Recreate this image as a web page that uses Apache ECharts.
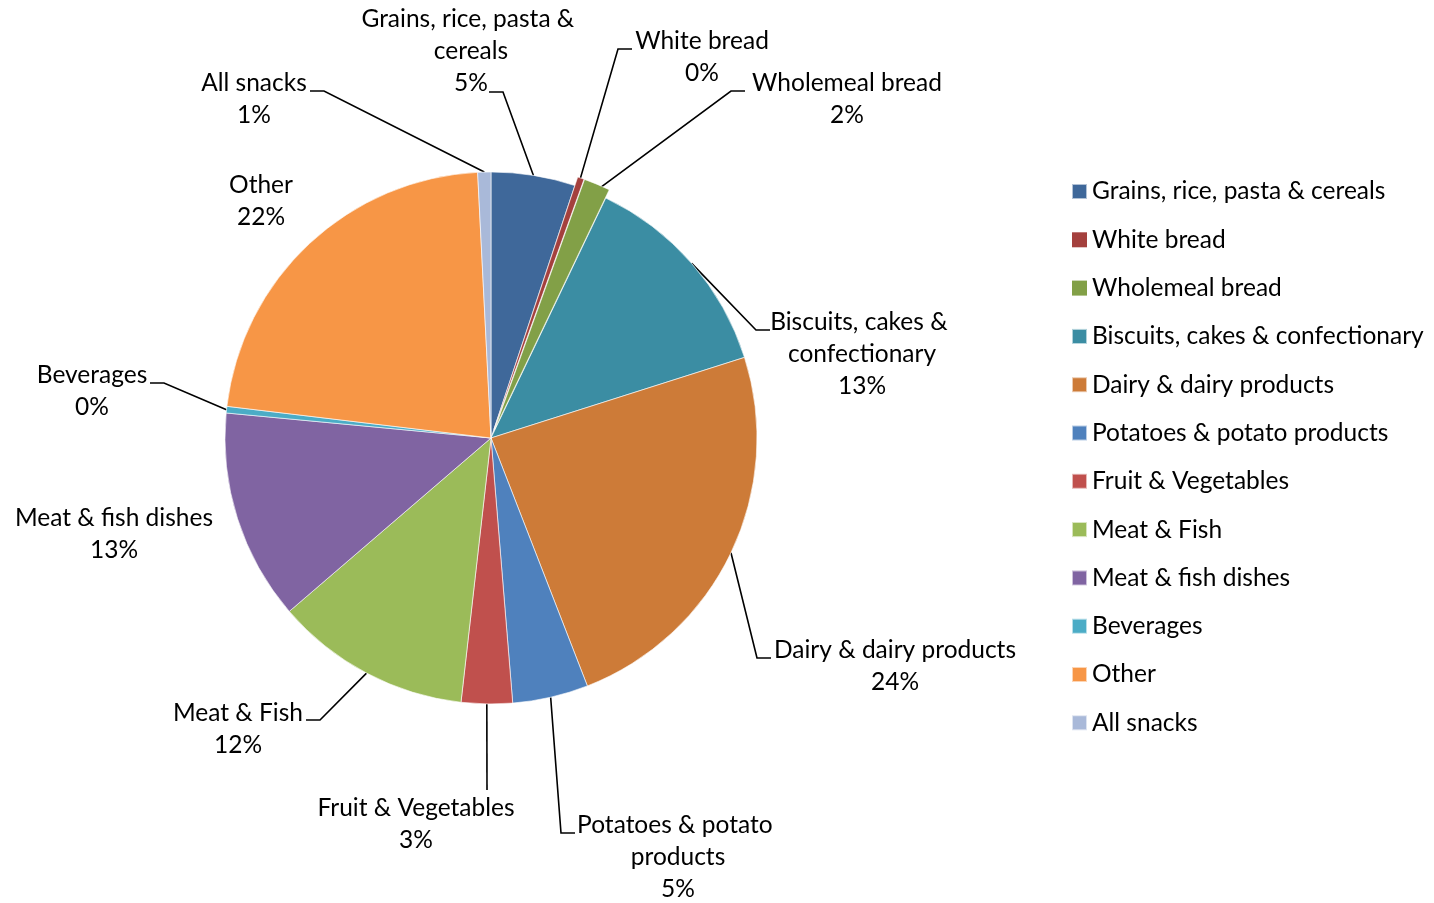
<!DOCTYPE html>
<html>
<head>
<meta charset="utf-8">
<script src="https://cdn.jsdelivr.net/npm/echarts@6/dist/echarts.min.js"></script>
<style>
  html, body { margin: 0; padding: 0; background: #fff; }
  #chart { width: 1434px; height: 903px; }
</style>
</head>
<body>
<div id="chart"></div>
<script>
// Share of intake by food group (%)
const categories = [
  'Grains, rice, pasta & cereals',
  'White bread',
  'Wholemeal bread',
  'Biscuits, cakes & confectionary',
  'Dairy & dairy products',
  'Potatoes & potato products',
  'Fruit & Vegetables',
  'Meat & Fish',
  'Meat & fish dishes',
  'Beverages',
  'Other',
  'All snacks'
];
const shares = [5.1, 0.4, 1.6, 13.0, 24.0, 4.6, 3.1, 11.9, 12.8, 0.4, 22.3, 0.8];

// Slice colours
const colors = [
  '#3F689A', '#A4403D', '#82A047', '#3B8DA3', '#CD7B38', '#4F81BD',
  '#C0504D', '#9BBB59', '#8064A2', '#4BACC6', '#F79646', '#A9B9D9'
];

// Slices pulled slightly out of the pie
const pulledOut = [1, 2];

// Label placement: centre of text block, end of leader line, direction of the short horizontal tail
const labelPlacement = [
  { cx: 471, cy: 51,  ex: 489, ey: 92,  tail: 1,  wrap: 240 },
  { cx: 702, cy: 57,  ex: 632, ey: 49,  tail: -1 },
  { cx: 847, cy: 99,  ex: 745, ey: 91,  tail: -1 },
  { cx: 862, cy: 354, ex: 770, ey: 330, tail: -1, wrap: 200 },
  { cx: 895, cy: 666, ex: 771, ey: 658, tail: -1 },
  { cx: 678, cy: 857, ex: 575, ey: 833, tail: -1, wrap: 220 },
  { cx: 416, cy: 824, ex: 487, ey: 790, tail: 0 },
  { cx: 238, cy: 729, ex: 306, ey: 720, tail: 1 },
  { cx: 114, cy: 534, noLine: true },
  { cx: 92,  cy: 391, ex: 150, ey: 383, tail: 1 },
  { cx: 261, cy: 201, noLine: true },
  { cx: 254, cy: 99,  ex: 310, ey: 91,  tail: 1 }
];

const FONT = 'Lato, "Open Sans", sans-serif';
const FONT_SIZE = 24.5;
const CENTER = [491, 438];
const RADIUS = 266;
const PULL = 9;
const CLEAR = 'rgba(0,0,0,0)';
const BORDER = { borderColor: 'rgba(255,255,255,0.6)', borderWidth: 1 };

const total = shares.reduce((s, v) => s + v, 0);

// Main pie: every slice and every label; pulled slices are left empty here
const mainData = categories.map((name, i) => {
  const p = labelPlacement[i];
  const pulled = pulledOut.indexOf(i) >= 0;
  const item = {
    name: name,
    value: shares[i],
    itemStyle: pulled ? { color: CLEAR, borderWidth: 0 } : { color: colors[i] }
  };
  if (p.wrap) item.label = { width: p.wrap, overflow: 'break' };
  if (p.noLine) item.labelLine = { show: false };
  return item;
});

// One extra pie per pulled slice, shifted outward along that slice's mid angle
const pulledSeries = pulledOut.map(idx => {
  let before = 0;
  for (let k = 0; k < idx; k++) before += shares[k];
  const mid = ((before + shares[idx] / 2) / total) * 2 * Math.PI;
  return {
    type: 'pie',
    center: [CENTER[0] + PULL * Math.sin(mid), CENTER[1] - PULL * Math.cos(mid)],
    radius: RADIUS,
    startAngle: 90,
    clockwise: true,
    silent: true,
    z: 3,
    emphasis: { disabled: true },
    label: { show: false },
    labelLine: { show: false },
    itemStyle: BORDER,
    data: categories.map((name, i) => ({
      name: name,
      value: shares[i],
      itemStyle: i === idx ? { color: colors[i] } : { color: CLEAR, borderWidth: 0 }
    }))
  };
});

const chart = echarts.init(document.getElementById('chart'), null, { renderer: 'canvas' });

chart.setOption({
  animation: false,
  backgroundColor: '#ffffff',
  legend: {
    orient: 'vertical',
    left: 1066,
    top: 174,
    itemWidth: 15,
    itemHeight: 15,
    itemGap: 23.3,
    icon: 'rect',
    selectedMode: false,
    textStyle: { fontFamily: FONT, fontSize: FONT_SIZE, color: '#000', lineHeight: 24 },
    data: categories.map((name, i) => ({ name: name, itemStyle: { color: colors[i] } }))
  },
  series: [{
    type: 'pie',
    center: CENTER,
    radius: RADIUS,
    startAngle: 90,
    clockwise: true,
    avoidLabelOverlap: false,
    emphasis: { disabled: true },
    itemStyle: BORDER,
    label: {
      show: true,
      position: 'outside',
      fontFamily: FONT,
      fontSize: FONT_SIZE,
      lineHeight: 32,
      color: '#000',
      align: 'center',
      formatter: p => p.name + '\n' + Math.round(p.percent) + '%'
    },
    labelLine: {
      show: true,
      length: 20,
      length2: 14,
      lineStyle: { color: '#000', width: 1.6 }
    },
    labelLayout: function (params) {
      const p = labelPlacement[params.dataIndex];
      const out = { x: p.cx, y: p.cy, align: 'center', verticalAlign: 'middle' };
      if (!p.noLine && params.labelLinePoints) {
        const a = params.labelLinePoints[0];
        const elbow = p.tail === 0 ? [p.ex, p.ey] : [p.ex + p.tail * 14, p.ey];
        out.labelLinePoints = [[a[0], a[1]], elbow, [p.ex, p.ey]];
      }
      return out;
    },
    data: mainData
  }].concat(pulledSeries)
});
</script>
</body>
</html>
